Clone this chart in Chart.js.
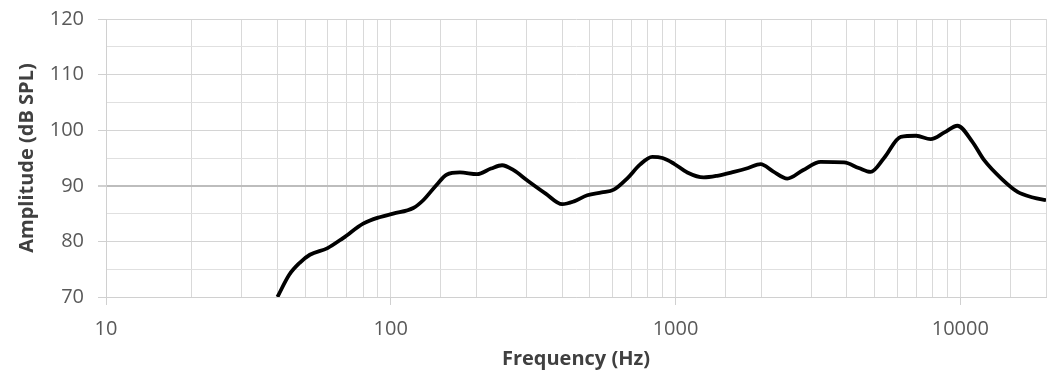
<!DOCTYPE html>
<html><head><meta charset="utf-8">
<script src="https://cdn.jsdelivr.net/npm/chart.js@4/dist/chart.umd.min.js"></script>
<style>html,body{margin:0;padding:0;background:#fff}#wrap{width:1063px;height:377px}</style>
</head><body><div id="wrap"><canvas id="c" width="1063" height="377"></canvas></div>
<script>
const freqs = [40, 44, 48, 52, 60, 68, 80, 92, 102, 120, 130, 145, 157, 175, 201, 225, 246, 270, 301, 350, 400, 440, 490, 550, 607, 676, 750, 828, 900, 986, 1100, 1256, 1400, 1602, 1800, 1990, 2200, 2470, 2800, 3236, 3908, 4400, 4844, 5400, 6180, 7000, 7870, 8800, 9770, 11000, 12130, 14000, 15890, 18000, 20000];
const amps  = [70, 74.0, 76.2, 77.6, 78.8, 80.6, 83.2, 84.4, 85.0, 86.0, 87.4, 90.2, 92.0, 92.4, 92.1, 93.1, 93.7, 92.8, 91.0, 88.6, 86.7, 87.2, 88.3, 88.8, 89.3, 91.3, 93.8, 95.2, 95.0, 94.0, 92.4, 91.5, 91.8, 92.5, 93.2, 93.9, 92.6, 91.3, 92.8, 94.3, 94.2, 93.2, 92.5, 95.0, 98.8, 99.0, 98.4, 99.6, 100.8, 98.0, 94.6, 91.2, 88.9, 87.9, 87.4];
const yTickLabels = [70, 80, 90, 100, 110, 120];
const xTickLabels = [10, 100, 1000, 10000];

const pts = freqs.map((f, i) => ({x: f, y: amps[i]}));
const font = '"Open Sans", "Liberation Sans", sans-serif';

new Chart(document.getElementById('c'), {
  type: 'line',
  data: { datasets: [{ data: pts, borderColor: '#000', borderWidth: 3.8, pointRadius: 0, tension: 0.4, cubicInterpolationMode: 'monotone', fill: false }] },
  options: {
    responsive: false, animation: false, devicePixelRatio: 1,
    layout: { padding: { top: 19, right: 17, bottom: 0, left: 0 } },
    plugins: { legend: { display: false }, tooltip: { enabled: false } },
    scales: {
      x: {
        type: 'logarithmic', min: 10, max: 20000,
        border: { color: '#d0d0d0', width: 1 },
        grid: {
          color: '#d9d9d9', lineWidth: 1, tickLength: 8,
          tickColor: ctx => xTickLabels.includes(ctx.tick && ctx.tick.value) ? '#d0d0d0' : 'rgba(0,0,0,0)'
        },
        ticks: {
          autoSkip: false, maxRotation: 0, color: '#595959', font: { family: font, size: 20 }, padding: 12,
          callback: v => xTickLabels.includes(v) ? String(v) : ''
        },
        title: { display: true, text: 'Frequency (Hz)', color: '#404040', font: { family: font, size: 20, weight: 'bold' }, padding: { top: 0, bottom: 6 } },
        afterFit: s => { s.height = 80; s.paddingLeft = 0; s.paddingRight = 0; }
      },
      y: {
        min: 70, max: 120,
        border: { color: '#d0d0d0', width: 1 },
        grid: {
          color: ctx => ctx.tick && ctx.tick.value === 90 ? '#bdbdbd' : (ctx.tick && ctx.tick.value % 10 === 0 ? '#d4d4d4' : '#e0e0e0'),
          lineWidth: ctx => ctx.tick && ctx.tick.value === 90 ? 2 : 1,
          tickLength: 8,
          tickColor: ctx => ctx.tick && yTickLabels.includes(ctx.tick.value) ? '#d0d0d0' : 'rgba(0,0,0,0)'
        },
        ticks: {
          stepSize: 5, color: '#595959', font: { family: font, size: 20 }, padding: 14,
          callback: v => yTickLabels.includes(v) ? String(v) : ''
        },
        title: { display: true, text: 'Amplitude (dB SPL)', color: '#404040', font: { family: font, size: 20, weight: 'bold' }, padding: { top: 15, bottom: 0 } },
        afterFit: s => { s.width = 106; s.paddingTop = 0; s.paddingBottom = 0; }
      }
    }
  }
});
</script></body></html>
